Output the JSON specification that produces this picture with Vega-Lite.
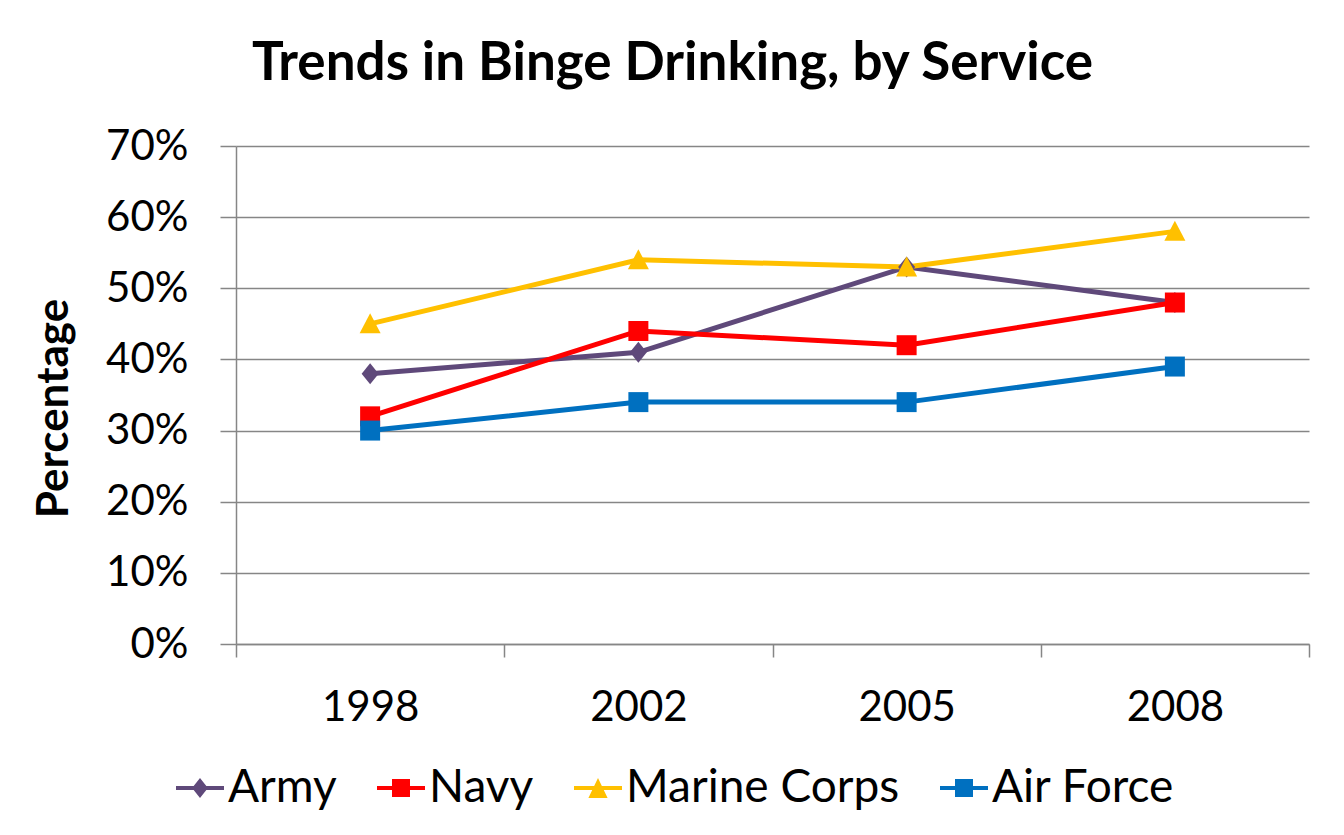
{
  "$schema": "https://vega.github.io/schema/vega-lite/v6.json",
  "width": 1073,
  "height": 498,
  "autosize": {"type": "none"},
  "padding": {"left": 236, "top": 146, "right": 35, "bottom": 191},
  "background": "white",
  "config": {"view": {"stroke": null}, "font": "Lato"},
  "title": {
    "text": "Trends in Binge Drinking, by Service",
    "fontSize": 53,
    "fontWeight": "bold",
    "font": "Lato",
    "color": "black",
    "anchor": "middle",
    "baseline": "alphabetic",
    "dx": -100,
    "offset": -8
  },
  "data": {
    "values": [
      {"service": "Army", "year": "1998", "pct": 0.38},
      {"service": "Army", "year": "2002", "pct": 0.41},
      {"service": "Army", "year": "2005", "pct": 0.53},
      {"service": "Army", "year": "2008", "pct": 0.48},
      {"service": "Navy", "year": "1998", "pct": 0.32},
      {"service": "Navy", "year": "2002", "pct": 0.44},
      {"service": "Navy", "year": "2005", "pct": 0.42},
      {"service": "Navy", "year": "2008", "pct": 0.48},
      {"service": "Marine Corps", "year": "1998", "pct": 0.45},
      {"service": "Marine Corps", "year": "2002", "pct": 0.54},
      {"service": "Marine Corps", "year": "2005", "pct": 0.53},
      {"service": "Marine Corps", "year": "2008", "pct": 0.58},
      {"service": "Air Force", "year": "1998", "pct": 0.30},
      {"service": "Air Force", "year": "2002", "pct": 0.34},
      {"service": "Air Force", "year": "2005", "pct": 0.34},
      {"service": "Air Force", "year": "2008", "pct": 0.39}
    ]
  },
  "encoding": {
    "x": {
      "field": "year",
      "type": "nominal",
      "sort": ["1998", "2002", "2005", "2008"],
      "scale": {"type": "band", "paddingInner": 0, "paddingOuter": 0},
      "axis": {
        "title": null,
        "labelAngle": 0,
        "labelFontSize": 42,
        "labelColor": "black",
        "labelPadding": 30,
        "tickBand": "extent",
        "tickSize": 13,
        "tickColor": "#868686",
        "tickWidth": 1.5,
        "domainColor": "#868686",
        "domainWidth": 1.5,
        "grid": false
      }
    },
    "y": {
      "field": "pct",
      "type": "quantitative",
      "scale": {"domain": [0, 0.7]},
      "axis": {
        "values": [0, 0.1, 0.2, 0.3, 0.4, 0.5, 0.6, 0.7],
        "format": ".0%",
        "labelFontSize": 42,
        "labelColor": "black",
        "labelPadding": 32,
        "tickSize": 16,
        "tickColor": "#868686",
        "tickWidth": 1.5,
        "domainColor": "#868686",
        "domainWidth": 1.5,
        "gridColor": "#868686",
        "gridWidth": 1.5,
        "title": "Percentage",
        "titleFontSize": 44,
        "titleFontWeight": "bold",
        "titleColor": "black",
        "titlePadding": 29,
        "titleY": 262
      }
    }
  },
  "resolve": {"legend": {"color": "independent"}},
  "layer": [
    {
      "mark": {"type": "line", "strokeWidth": 5},
      "encoding": {
        "color": {
          "field": "service",
          "type": "nominal",
          "scale": {"domain": ["Army", "Navy", "Marine Corps", "Air Force"], "range": ["#5F497A", "#FF0000", "#FFC000", "#0070C0"]},
          "legend": null
        },
        "detail": {"field": "service"}
      }
    },
    {
      "mark": {"type": "point", "filled": true, "opacity": 1, "size": 100, "strokeWidth": 0},
      "encoding": {
        "color": {
          "field": "service",
          "type": "nominal",
          "scale": {"domain": ["Army", "Navy", "Marine Corps", "Air Force"], "range": ["#5F497A", "#FF0000", "#FFC000", "#0070C0"]},
          "legend": {
            "title": null,
            "orient": "none",
            "legendX": -60,
            "legendY": 618,
            "direction": "horizontal",
            "symbolSize": 2304,
            "symbolStrokeWidth": 0,
            "symbolOpacity": 1,
            "labelFontSize": 46,
            "labelColor": "black",
            "labelOffset": 4,
            "labelLimit": 400,
            "columnPadding": 40,
            "encode": {
              "symbols": {
                "update": {
                  "shape": {"signal": "datum.value === 'Army' ? 'M-1,-0.085H1V0.085H-1Z M0,-0.42L0.33,0L0,0.42L-0.33,0Z' : datum.value === 'Marine Corps' ? 'M-1,-0.085H1V0.085H-1Z M0,-0.42L0.4,0.42H-0.4Z' : 'M-1,-0.085H1V0.085H-1Z M-0.375,-0.375H0.375V0.375H-0.375Z'"}
                }
              }
            }
          }
        },
        "shape": {
          "field": "service",
          "type": "nominal",
          "scale": {"domain": ["Army", "Navy", "Marine Corps", "Air Force"], "range": ["M0,-2.1L1.7,0L0,2.1L-1.7,0Z", "M-2,-2H2V2H-2Z", "M0,-2.1L2.1,1.9H-2.1Z", "M-2,-2H2V2H-2Z"]},
          "legend": null
        }
      }
    }
  ]
}
